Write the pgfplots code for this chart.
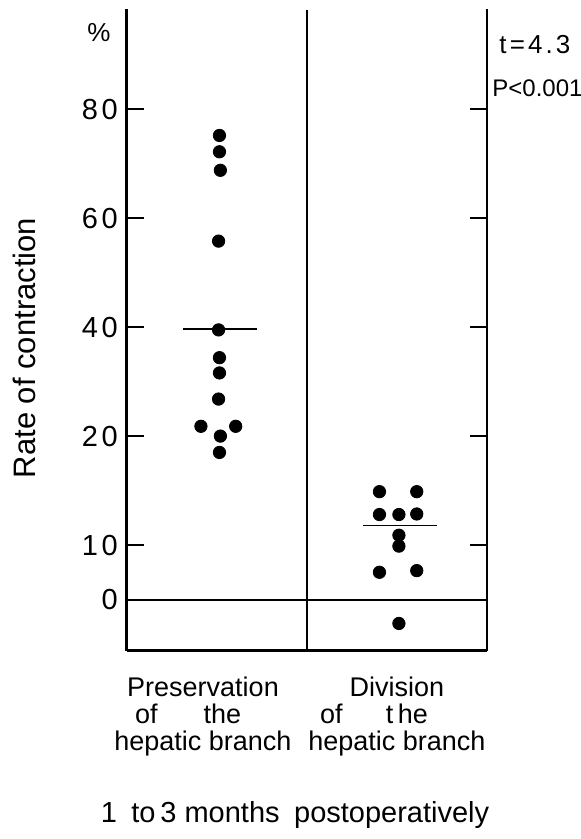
\documentclass[border=0pt]{standalone}
\usepackage{fontspec}
\setmainfont{Liberation Sans}
\newfontfamily\wide[LetterSpace=12]{Liberation Sans}
\usepackage{pgfplots}
\pgfplotsset{compat=1.18}

\begin{document}
\begin{tikzpicture}
  % y runs in drawn positions: 0,10 -> 0,5 ; 20..80 -> 15..45 (scale as printed)
  \begin{axis}[
    scale only axis,
    width=180.15pt, height=320.8pt,
    xmin=0, xmax=2,
    ymin=-4.7, ymax=54.2,
    axis x line*=bottom,
    axis y line*=box,
    xtick=\empty,
    ytick={0,5,15,25,35,45},
    yticklabels={0,10,20,40,60,80},
    tick align=inside,
    major tick length=8.5pt,
    tick style={line width=1pt, black},
    axis line style={line width=1.3pt},
    tick label style={font=\wide\fontsize{14.5}{17}\selectfont},
    yticklabel style={font=\wide\fontsize{14.5}{17}\selectfont, anchor=east, inner sep=0pt, xshift=-4.3pt},
    clip=false,
    ]
    % preservation of the hepatic branch
    \addplot[only marks, mark=*, mark size=3.1pt, black] coordinates {
      (0.515,42.6) (0.515,41.1) (0.52,39.4) (0.51,32.9) (0.51,24.75)
      (0.515,22.2) (0.515,20.8) (0.51,18.4) (0.412,15.9) (0.605,15.9)
      (0.52,15.0) (0.515,13.5)
    };
    % division of the hepatic branch
    \addplot[only marks, mark=*, mark size=3.1pt, black] coordinates {
      (1.403,9.9) (1.610,9.9) (1.403,7.8) (1.511,7.8) (1.610,7.85)
      (1.511,5.9) (1.511,4.9) (1.403,2.5) (1.610,2.65) (1.511,-2.2)
    };
    % means
    \addplot[black, line width=0.8pt] coordinates {(0.313,24.85) (0.724,24.85)};
    \addplot[black, line width=0.8pt] coordinates {(1.314,6.78) (1.721,6.78)};

    \draw[line width=1pt] (axis cs:0,0) -- (axis cs:2,0);
    \draw[line width=1.2pt] (axis cs:1,-4.7) -- (axis cs:1,54.1);
    \coordinate (A) at (rel axis cs:0,0);
  \end{axis}

  % labels, in pixels of the original page
  \begin{scope}[shift={(A)}, x=0.5pt, y=-0.5pt, shift={(-126.7,-650.7)}]
    \path[use as bounding box] (0,0) rectangle (581,839);
    \node[rotate=90, font=\fontsize{15.5}{18}\selectfont] at (24,348) {Rate of contraction};
    \node[font=\fontsize{13}{15}\selectfont] at (99,33) {\%};
    \node[anchor=west, inner sep=0pt, font=\wide\fontsize{13}{15}\selectfont] at (499,45) {t=4.3};
    \node[anchor=west, inner sep=0pt, font=\fontsize{12}{14}\selectfont] at (492,88) {P<0.001};
    \node[anchor=north, align=center, inner sep=0pt, font=\fontsize{13.5}{13.5}\selectfont]
      at (203,677) {Preservation\\of\hspace{1.7em}the\hspace{1.1em}\null\\hepatic branch};
    \node[anchor=north, align=center, inner sep=0pt, font=\fontsize{13.5}{13.5}\selectfont]
      at (397,677) {Division\\of\hspace{1.6em}t\,he\hspace{1.7em}\null\\hepatic branch};
    \node[font=\fontsize{14.5}{17}\selectfont] at (295,815) {1\hspace{0.5em}to\,3 months\hspace{0.5em}postoperatively};
  \end{scope}
\end{tikzpicture}
\end{document}
